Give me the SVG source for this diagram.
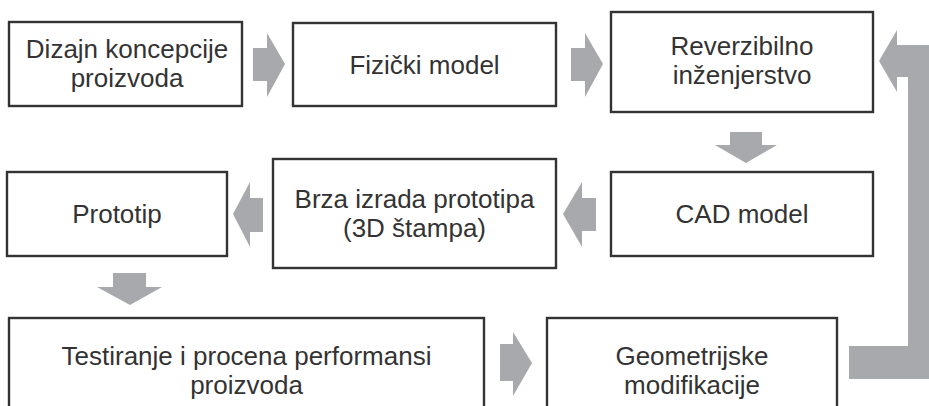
<svg xmlns="http://www.w3.org/2000/svg" width="929" height="406" viewBox="0 0 929 406">
  <style>
    .box { fill: #ffffff; stroke: #333333; stroke-width: 2.4; }
    .lbl { font-family: "Liberation Sans", Arial, Helvetica, sans-serif; font-size: 26px; fill: #333333; text-anchor: middle; }
    .arr { fill: #a7a9ac; stroke: none; }
  </style>
  <rect width="929" height="406" fill="#ffffff"/>

  <g id="connectors">
    <!-- concept design -> physical model -->
    <polygon class="arr" points="253,48 267,48 267,33 285,64 267,97 267,81 253,81"/>
    <!-- physical model -> reverse engineering -->
    <polygon class="arr" points="571,48 585,48 585,33 603,64 585,97 585,81 571,81"/>
    <!-- reverse engineering -> CAD model -->
    <polygon class="arr" points="730,132 762,132 762,145 777,145 746,163 715,145 730,145"/>
    <!-- CAD model -> rapid prototyping -->
    <polygon class="arr" points="596,198 582,198 582,182 563,214 582,247 582,231 596,231"/>
    <!-- rapid prototyping -> prototype -->
    <polygon class="arr" points="263,198 250,198 250,182 233,214 250,247 250,232 263,232"/>
    <!-- prototype -> testing -->
    <polygon class="arr" points="113,273 146,273 146,287 162,287 130,305 97,287 113,287"/>
    <!-- testing -> geometric modifications -->
    <polygon class="arr" points="500,344 513,344 513,332 532,363 513,396 513,381 500,381"/>
    <!-- feedback loop: modifications -> reverse engineering -->
    <polygon class="arr" points="849,346 908,346 908,77 897,77 897,92 879,61 897,30 897,45 935,45 935,379 849,379"/>
  </g>

  <g id="dizajn">
    <rect class="box" x="9" y="22" width="233" height="84"/>
    <text class="lbl" x="127" y="58">Dizajn koncepcije</text>
    <text class="lbl" x="127" y="87">proizvoda</text>
  </g>

  <g id="fizicki-model">
    <rect class="box" x="293" y="23" width="263" height="83"/>
    <text class="lbl" x="424.5" y="74">Fizički model</text>
  </g>

  <g id="reverzibilno">
    <rect class="box" x="611" y="12" width="262" height="100"/>
    <text class="lbl" x="742" y="55">Reverzibilno</text>
    <text class="lbl" x="742" y="84">inženjerstvo</text>
  </g>

  <g id="cad-model">
    <rect class="box" x="611" y="172" width="262" height="84"/>
    <text class="lbl" x="742" y="223">CAD model</text>
  </g>

  <g id="brza-izrada">
    <rect class="box" x="273" y="159" width="283" height="109"/>
    <text class="lbl" x="414.5" y="208">Brza izrada prototipa</text>
    <text class="lbl" x="414.5" y="237">(3D štampa)</text>
  </g>

  <g id="prototip">
    <rect class="box" x="7" y="172" width="220" height="84"/>
    <text class="lbl" x="117" y="223">Prototip</text>
  </g>

  <g id="testiranje">
    <rect class="box" x="9" y="318" width="475" height="100"/>
    <text class="lbl" x="246.5" y="365">Testiranje i procena performansi</text>
    <text class="lbl" x="246.5" y="394">proizvoda</text>
  </g>

  <g id="geometrijske">
    <rect class="box" x="547" y="318" width="290" height="100"/>
    <text class="lbl" x="692" y="365">Geometrijske</text>
    <text class="lbl" x="692" y="394">modifikacije</text>
  </g>
</svg>
